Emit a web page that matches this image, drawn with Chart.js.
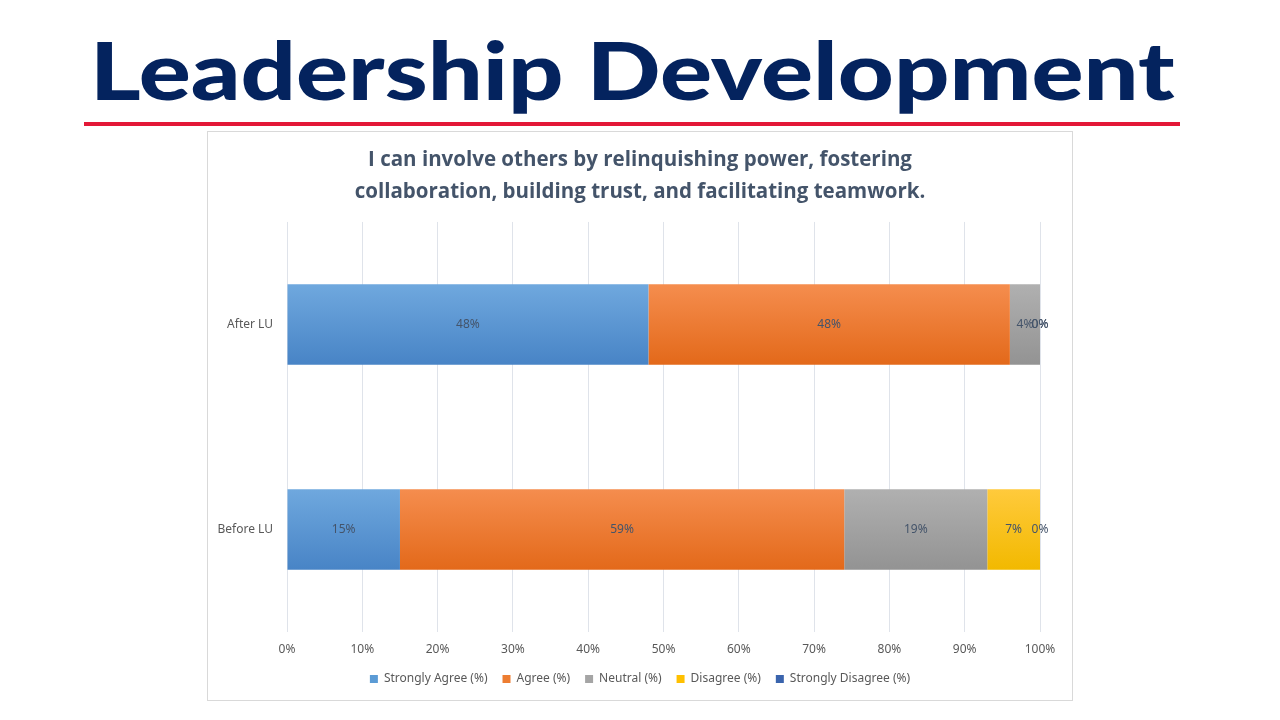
<!DOCTYPE html>
<html>
<head>
<meta charset="utf-8">
<script src="https://cdn.jsdelivr.net/npm/chart.js@4.4.1/dist/chart.umd.min.js"></script>
<style>
  html, body { margin: 0; padding: 0; background: #fff; }
  body { width: 1280px; height: 720px; position: relative; overflow: hidden; }
  #heading {
    position: absolute; left: 90px; top: 19px; margin: 0;
    font-family: Lato, "DejaVu Sans", sans-serif; font-weight: 900;
    font-size: 80px; line-height: 100px; color: #04235e;
    white-space: nowrap; transform-origin: left top;
  }
  #rule { position: absolute; left: 84px; top: 122px; width: 1096px; height: 4px; background: #e31837; }
  #box {
    position: absolute; left: 207px; top: 131px; width: 864px; height: 568px;
    border: 1px solid #d9d9d9;
  }
  #surveyChart { display: block; }
</style>
</head>
<body>
<h1 id="heading">Leadership Development</h1>
<div id="rule"></div>
<div id="box"><canvas id="surveyChart" width="864" height="568"></canvas></div>
<script>
const categories = ['After LU', 'Before LU'];
const seriesNames = ['Strongly Agree (%)', 'Agree (%)', 'Neutral (%)', 'Disagree (%)', 'Strongly Disagree (%)'];
const stronglyAgree = [48, 15];
const agree = [48, 59];
const neutral = [4, 19];
const disagree = [0, 7];
const stronglyDisagree = [0, 0];
const tickLabels = ['0%', '10%', '20%', '30%', '40%', '50%', '60%', '70%', '80%', '90%', '100%'];

// stretch heading to the reference width
const h = document.getElementById('heading');
h.style.transform = 'scaleX(' + (1085 / h.scrollWidth) + ')';

const shades = [
  ['#6fa8de', '#4884c6'],
  ['#f58d4e', '#e3691a'],
  ['#b0b0b0', '#939393'],
  ['#ffca3c', '#f2b900'],
  ['#3b67b3', '#2a4f92']
];
const legendColors = ['#5b9bd5', '#ed7d31', '#a5a5a5', '#ffc000', '#3a64ad'];

function barFill(idx) {
  return function(context) {
    const chart = context.chart;
    const yScale = chart.scales.y;
    if (!yScale || !chart.chartArea || context.type !== 'data') return shades[idx][0];
    const yc = yScale.getPixelForValue(context.dataIndex);
    const g = chart.ctx.createLinearGradient(0, yc - 40, 0, yc + 40);
    g.addColorStop(0, shades[idx][0]);
    g.addColorStop(1, shades[idx][1]);
    return g;
  };
}

const valueLabels = {
  id: 'valueLabels',
  afterDatasetsDraw(chart) {
    const ctx = chart.ctx;
    ctx.save();
    ctx.font = '12px "Noto Sans", sans-serif';
    ctx.fillStyle = '#44546a';
    ctx.textAlign = 'center';
    ctx.textBaseline = 'middle';
    chart.data.datasets.forEach(function(ds, i) {
      chart.getDatasetMeta(i).data.forEach(function(bar, j) {
        const cx = (bar.x + bar.base) / 2;
        ctx.fillText(ds.data[j] + '%', cx, bar.y);
      });
    });
    ctx.restore();
  }
};

const allSeries = [stronglyAgree, agree, neutral, disagree, stronglyDisagree];

new Chart(document.getElementById('surveyChart'), {
  type: 'bar',
  data: {
    labels: categories,
    datasets: allSeries.map(function(values, i) {
      return {
        label: seriesNames[i],
        data: values,
        backgroundColor: barFill(i),
        borderWidth: 0,
        barPercentage: 0.8,
        categoryPercentage: 0.49
      };
    })
  },
  options: {
    indexAxis: 'y',
    responsive: false,
    animation: false,
    devicePixelRatio: 1,
    layout: { padding: { left: 0, right: 0, top: 6, bottom: 5 } },
    scales: {
      x: {
        stacked: true,
        min: 0,
        max: 100,
        grid: { color: '#dfe3ea', drawTicks: false },
        border: { display: false },
        ticks: {
          stepSize: 10,
          padding: 10,
          maxRotation: 0,
          color: '#595959',
          font: { family: '"Noto Sans", sans-serif', size: 12 },
          callback: function(v, i) { return tickLabels[i]; }
        },
        afterFit: function(scale) { scale.paddingRight = 32; scale.height = 26; }
      },
      y: {
        stacked: true,
        grid: { display: false, drawTicks: false },
        border: { display: false },
        ticks: {
          padding: 14,
          color: '#595959',
          font: { family: '"Noto Sans", sans-serif', size: 12 }
        },
        afterFit: function(scale) { scale.width = 79; }
      }
    },
    plugins: {
      title: {
        display: true,
        text: ['I can involve others by relinquishing power, fostering', 'collaboration, building trust, and facilitating teamwork.'],
        color: '#44546a',
        font: { family: '"Open Sans", sans-serif', size: 20.5, weight: 'bold', lineHeight: 1.56 },
        padding: { top: 6, bottom: 14 }
      },
      legend: {
        position: 'bottom',
        labels: {
          boxWidth: 8,
          boxHeight: 8,
          padding: 15,
          color: '#595959',
          font: { family: '"Noto Sans", sans-serif', size: 12 },
          generateLabels: function(chart) {
            return chart.data.datasets.map(function(ds, i) {
              return { text: ds.label, fillStyle: legendColors[i], strokeStyle: legendColors[i], lineWidth: 0, datasetIndex: i, fontColor: '#595959' };
            });
          }
        }
      },
      tooltip: { enabled: false }
    }
  },
  plugins: [valueLabels]
});
</script>
</body>
</html>
